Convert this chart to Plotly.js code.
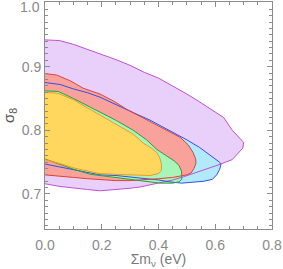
<!DOCTYPE html>
<html>
<head>
<meta charset="utf-8">
<script src="https://cdn.plot.ly/plotly-3.0.1.min.js"></script>
<style>html,body{margin:0;padding:0;background:#fff;}#chart{width:283px;height:269px;}</style>
</head>
<body>
<div id="chart"></div>
<script>
// Contour boundaries (sum of neutrino masses [eV] vs sigma_8)
const purpleX = [0, 0.05, 0.10, 0.15, 0.20, 0.25, 0.30, 0.35, 0.40, 0.45, 0.50, 0.54, 0.59, 0.63, 0.66, 0.685, 0.70, 0.697, 0.68, 0.66, 0.62, 0.57, 0.52, 0.488, 0.45, 0.40, 0.335, 0.30, 0.25, 0.194, 0.15, 0.10, 0.05, 0];
const purpleY = [0.942, 0.941, 0.935, 0.927, 0.920, 0.911, 0.902, 0.891, 0.882, 0.870, 0.857, 0.846, 0.832, 0.820, 0.800, 0.789, 0.781, 0.772, 0.763, 0.754, 0.747, 0.739, 0.731, 0.727, 0.722, 0.717, 0.711, 0.709, 0.707, 0.705, 0.707, 0.709, 0.712, 0.716];

const blueX = [0, 0.053, 0.10, 0.15, 0.194, 0.25, 0.30, 0.37, 0.405, 0.45, 0.50, 0.545, 0.575, 0.60, 0.615, 0.62, 0.615, 0.605, 0.59, 0.56, 0.523, 0.482, 0.44, 0.40, 0.335, 0.30, 0.25, 0.194, 0.15, 0.10, 0.05, 0];
const blueY = [0.875, 0.872, 0.865, 0.859, 0.852, 0.840, 0.830, 0.816, 0.808, 0.797, 0.785, 0.773, 0.763, 0.756, 0.750, 0.746, 0.738, 0.730, 0.723, 0.720, 0.719, 0.717, 0.719, 0.722, 0.725, 0.727, 0.729, 0.730, 0.734, 0.738, 0.743, 0.747];

const redX = [0, 0.04, 0.088, 0.135, 0.194, 0.241, 0.288, 0.335, 0.382, 0.429, 0.476, 0.505, 0.522, 0.531, 0.532, 0.525, 0.515, 0.50, 0.488, 0.45, 0.40, 0.35, 0.30, 0.25, 0.20, 0.15, 0.10, 0.05, 0];
const redY = [0.889, 0.887, 0.878, 0.866, 0.857, 0.846, 0.833, 0.822, 0.811, 0.801, 0.789, 0.777, 0.765, 0.755, 0.748, 0.740, 0.733, 0.730, 0.729, 0.726, 0.724, 0.722, 0.721, 0.721, 0.722, 0.724, 0.726, 0.728, 0.730];

const greenX = [0, 0.047, 0.10, 0.135, 0.194, 0.253, 0.311, 0.358, 0.394, 0.43, 0.455, 0.472, 0.481, 0.482, 0.482, 0.472, 0.45, 0.405, 0.37, 0.30, 0.253, 0.20, 0.159, 0.10, 0.05, 0];
const greenY = [0.862, 0.861, 0.850, 0.842, 0.829, 0.815, 0.800, 0.785, 0.770, 0.760, 0.752, 0.745, 0.736, 0.729, 0.723, 0.719, 0.717, 0.717, 0.719, 0.723, 0.725, 0.728, 0.731, 0.739, 0.747, 0.755];

const yellowX = [0, 0.047, 0.10, 0.135, 0.194, 0.253, 0.311, 0.346, 0.375, 0.394, 0.405, 0.411, 0.410, 0.400, 0.37, 0.30, 0.25, 0.194, 0.15, 0.10, 0.05, 0];
const yellowY = [0.860, 0.858, 0.848, 0.839, 0.825, 0.810, 0.794, 0.780, 0.772, 0.765, 0.756, 0.746, 0.737, 0.732, 0.729, 0.730, 0.731, 0.732, 0.736, 0.741, 0.748, 0.754];

const xTickVals = [0, 0.2, 0.4, 0.6, 0.8];
const xTickText = ['0.0', '0.2', '0.4', '0.6', '0.8'];
const yTickVals = [0.7, 0.8, 0.9, 1.0];
const yTickText = ['0.7', '0.8', '0.9', '1.0'];

const regions = [
  {x: purpleX, y: purpleY, fill: '#e8d0fb', line: '#c24fd6'},
  {x: blueX,   y: blueY,   fill: '#b3eafb', line: '#3050ee'},
  {x: redX,    y: redY,    fill: '#f8a29b', line: '#e2403a'},
  {x: greenX,  y: greenY,  fill: '#a9f4b8', line: '#2e9e3a'},
  {x: yellowX, y: yellowY, fill: '#ffd75e', line: '#f59a1a'}
];

const traces = [];
regions.forEach(r => traces.push({
  x: r.x, y: r.y, type: 'scatter', mode: 'lines', fill: 'toself',
  fillcolor: r.fill, line: {width: 0, color: r.fill}, hoverinfo: 'skip', showlegend: false
}));
regions.forEach(r => traces.push({
  x: r.x, y: r.y, type: 'scatter', mode: 'lines',
  line: {width: 1, color: r.line}, hoverinfo: 'skip', showlegend: false
}));

const fontFam = 'Liberation Sans, Arial, sans-serif';
const tickFont = {family: fontFam, size: 14, color: '#8a8a8a'};
const axisCommon = {
  showgrid: false, zeroline: false, showline: true, linecolor: '#8c8c8c', linewidth: 1,
  mirror: 'allticks', ticks: 'inside', ticklen: 5, tickcolor: '#8c8c8c', tickwidth: 1,
  tickfont: tickFont
};

// the top label sits just inside the frame, as in the reference
const yLabelText = yTickText.map((t, i) => (i === yTickText.length - 1 ? '' : t));

const layout = {
  width: 283, height: 269,
  margin: {l: 45, r: 11, t: 2, b: 40},
  paper_bgcolor: '#ffffff', plot_bgcolor: '#ffffff',
  xaxis: Object.assign({}, axisCommon, {
    range: [0, 0.8], tickmode: 'array', tickvals: xTickVals, ticktext: xTickText, ticklabelstandoff: 3,
    minor: {dtick: 0.05, ticklen: 3, tickcolor: '#8c8c8c', ticks: 'inside'},
    title: {text: 'Σm<sub>ν</sub> (eV)', standoff: 0,
      font: {family: fontFam, size: 14, color: '#7a7a7a'}}
  }),
  yaxis: Object.assign({}, axisCommon, {
    range: [0.645, 1.0015], tickmode: 'array', tickvals: yTickVals, ticktext: yLabelText,
    minor: {dtick: 0.01, ticklen: 3, tickcolor: '#8c8c8c', ticks: 'inside'},
    title: {text: 'σ<sub>8</sub>', standoff: 4,
      font: {family: fontFam, size: 15, color: '#555555'}}
  }),
  annotations: [{
    text: yTickText[yTickText.length - 1], xref: 'paper', x: 0, xanchor: 'right', xshift: -3,
    yref: 'y', y: yTickVals[yTickVals.length - 1], yanchor: 'middle', yshift: -4,
    showarrow: false, font: tickFont
  }]
};

Plotly.newPlot('chart', traces, layout, {staticPlot: true, displayModeBar: false});
</script>
</body>
</html>
